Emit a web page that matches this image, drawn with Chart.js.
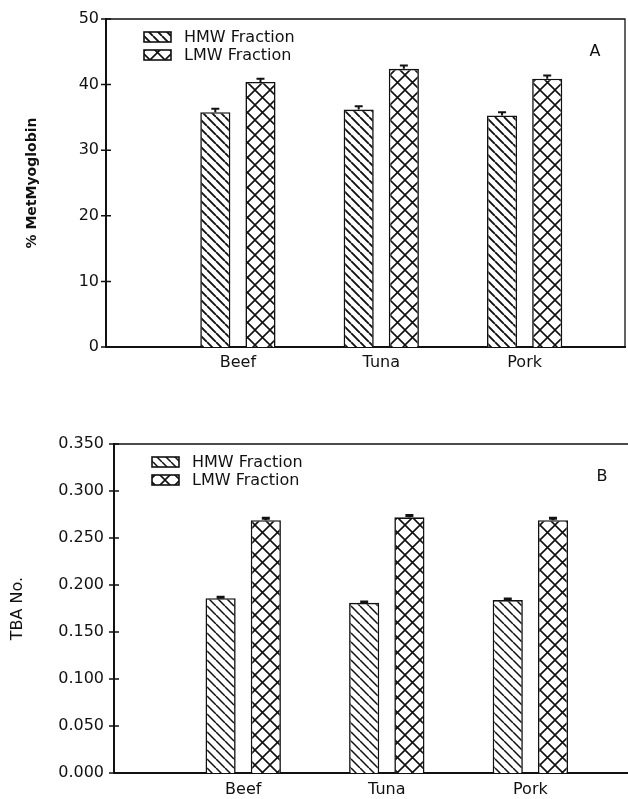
<!DOCTYPE html>
<html>
<head>
<meta charset="utf-8">
<script src="https://cdn.jsdelivr.net/npm/chart.js@4.4.0/dist/chart.umd.min.js"></script>
<style>
  html, body { margin: 0; padding: 0; background: #fff; overflow: hidden; }
  canvas { position: absolute; left: 0; display: block; }
  #chartA { top: 0; }
  #chartB { top: 390px; }
</style>
</head>
<body>
<canvas id="chartA" width="628" height="390"></canvas>
<canvas id="chartB" width="628" height="409"></canvas>
<script>
// ---- data ----
const categories = ['Beef', 'Tuna', 'Pork'];
const categoryPos = [1, 2, 3];
const seriesNames = ['HMW Fraction', 'LMW Fraction'];

// panel A: % MetMyoglobin
const metMbHMW = [35.8, 36.2, 35.3];
const metMbLMW = [40.4, 42.4, 40.9];
const metMbHMWErr = [0.5, 0.5, 0.5];
const metMbLMWErr = [0.5, 0.5, 0.5];
const metMbTicks = [0, 10, 20, 30, 40, 50];

// panel B: TBA No.
const tbaHMW = [0.186, 0.181, 0.184];
const tbaLMW = [0.269, 0.272, 0.269];
const tbaHMWErr = [0.001, 0.001, 0.001];
const tbaLMWErr = [0.002, 0.002, 0.002];
const tbaTicks = [0, 0.05, 0.1, 0.15, 0.2, 0.25, 0.3, 0.35];

const FONT = "'DejaVu Sans', sans-serif";
const INK = '#111';

// hatch fill: "\" lines, optionally crossed with "/"
function hatch(ctx, size, lw, cross) {
  const c = document.createElement('canvas');
  c.width = size; c.height = size;
  const g = c.getContext('2d');
  g.fillStyle = '#fff';
  g.fillRect(0, 0, size, size);
  g.strokeStyle = INK;
  g.lineWidth = lw;
  g.beginPath();
  for (let k = -1; k <= 1; k++) {
    g.moveTo(k * size, 0); g.lineTo(k * size + size, size);
    if (cross) { g.moveTo(k * size, size); g.lineTo(k * size + size, 0); }
  }
  g.stroke();
  return ctx.createPattern(c, 'repeat');
}

// error bars, box frame, crossing ticks, inner legend and panel letter
const figurePlugin = {
  id: 'figure',
  afterDatasetsDraw(chart, args, opts) {
    const ctx = chart.ctx;
    const y = chart.scales.y;
    ctx.save();
    ctx.strokeStyle = INK;
    ctx.lineWidth = opts.errWidth;
    chart.data.datasets.forEach((ds, i) => {
      chart.getDatasetMeta(i).data.forEach((bar, j) => {
        const top = y.getPixelForValue(ds.data[j].y + ds.errors[j]);
        ctx.beginPath();
        ctx.moveTo(bar.x, bar.y);
        ctx.lineTo(bar.x, top);
        ctx.moveTo(bar.x - opts.capHalf, top);
        ctx.lineTo(bar.x + opts.capHalf, top);
        ctx.stroke();
      });
    });
    ctx.restore();
  },
  afterDraw(chart, args, opts) {
    const ctx = chart.ctx;
    const a = chart.chartArea;
    const y = chart.scales.y;
    ctx.save();
    ctx.strokeStyle = INK;

    // frame
    ctx.lineWidth = 1.3;
    ctx.beginPath();
    ctx.moveTo(a.left, a.top);
    ctx.lineTo(a.right, a.top);
    if (opts.rightBorder) ctx.lineTo(a.right, a.bottom);
    ctx.stroke();

    // ticks crossing the y axis
    ctx.lineWidth = 1.5;
    ctx.beginPath();
    y.ticks.forEach(t => {
      const py = y.getPixelForValue(t.value);
      ctx.moveTo(a.left - 5, py);
      ctx.lineTo(a.left + 5, py);
    });
    ctx.stroke();

    // legend inside the plot
    ctx.font = '16px ' + FONT;
    ctx.textBaseline = 'middle';
    ctx.textAlign = 'left';
    chart.data.datasets.forEach((ds, i) => {
      const cy = a.top + 18 + i * 18;
      ctx.fillStyle = ds.backgroundColor;
      ctx.fillRect(a.left + 38, cy - 5, 27, 10);
      ctx.lineWidth = 1.6;
      ctx.strokeRect(a.left + 38, cy - 5, 27, 10);
      ctx.fillStyle = INK;
      ctx.fillText(ds.label, a.left + 78, cy + 1);
    });

    // panel letter
    ctx.textAlign = 'center';
    ctx.fillText(opts.letter, a.right - opts.letterRight, a.top + 33);
    ctx.restore();
  }
};

function makeChart(id, hmw, lmw, hmwErr, lmwErr, yTicks, o) {
  const ctx = document.getElementById(id).getContext('2d');
  const toPoints = arr => arr.map((v, i) => ({ x: categoryPos[i], y: v }));
  return new Chart(ctx, {
    type: 'bar',
    data: {
      datasets: [
        {
          label: seriesNames[0],
          data: toPoints(hmw),
          errors: hmwErr,
          backgroundColor: hatch(ctx, 9, o.hatchWidth, false),
          borderColor: INK,
          borderWidth: 1.6,
        },
        {
          label: seriesNames[1],
          data: toPoints(lmw),
          errors: lmwErr,
          backgroundColor: hatch(ctx, 15, 1.6, true),
          borderColor: INK,
          borderWidth: 1.6,
        },
      ],
    },
    options: {
      responsive: false,
      animation: false,
      devicePixelRatio: 1,
      categoryPercentage: 0.63,
      barPercentage: 0.667,
      layout: { padding: { top: o.padTop, right: o.padRight, left: 0, bottom: 0 } },
      plugins: {
        legend: { display: false },
        tooltip: { enabled: false },
        figure: o.figure,
      },
      scales: {
        x: {
          type: 'linear',
          min: o.xMin,
          max: o.xMax,
          offset: false,
          afterBuildTicks: s => { s.ticks = categoryPos.map(v => ({ value: v })); },
          afterFit: s => { s.height = o.axisBottom; },
          grid: { display: false, drawTicks: false },
          border: { display: true, color: INK, width: 2 },
          ticks: {
            color: INK,
            font: { family: FONT, size: 16 },
            padding: o.xPad,
            maxRotation: 0,
            autoSkip: false,
            callback: (v, i) => categories[i],
          },
        },
        y: {
          min: yTicks[0],
          max: yTicks[yTicks.length - 1],
          afterBuildTicks: s => { s.ticks = yTicks.map(v => ({ value: v })); },
          afterFit: s => { s.width = o.axisLeft; },
          grid: { display: false, drawTicks: false },
          border: { display: true, color: INK, width: 2 },
          ticks: {
            color: INK,
            font: { family: FONT, size: 16 },
            padding: o.yPad,
            callback: o.fmt,
          },
          title: {
            display: true,
            text: o.yTitle,
            color: INK,
            font: o.titleFont,
            padding: { top: o.titlePad, bottom: 0 },
          },
        },
      },
    },
    plugins: [figurePlugin],
  });
}

makeChart('chartA', metMbHMW, metMbLMW, metMbHMWErr, metMbLMWErr, metMbTicks, {
  xMin: 0.08, xMax: 3.70,
  padTop: 19, padRight: 3,
  axisLeft: 106, axisBottom: 43,
  xPad: 6, yPad: 7,
  hatchWidth: 1.9,
  yTitle: '% MetMyoglobin',
  titleFont: { family: FONT, size: 14, weight: 'bold' },
  titlePad: 24,
  fmt: v => String(v),
  figure: { letter: 'A', letterRight: 30, rightBorder: true, errWidth: 2, capHalf: 4 },
});

makeChart('chartB', tbaHMW, tbaLMW, tbaHMWErr, tbaLMWErr, tbaTicks, {
  xMin: 0.10, xMax: 3.68,
  padTop: 54, padRight: 0,
  axisLeft: 114, axisBottom: 26,
  xPad: 7, yPad: 10,
  hatchWidth: 1.5,
  yTitle: 'TBA No.',
  titleFont: { family: FONT, size: 16 },
  titlePad: 8,
  fmt: v => v.toFixed(3),
  figure: { letter: 'B', letterRight: 26, rightBorder: false, errWidth: 3, capHalf: 4 },
});
</script>
</body>
</html>
